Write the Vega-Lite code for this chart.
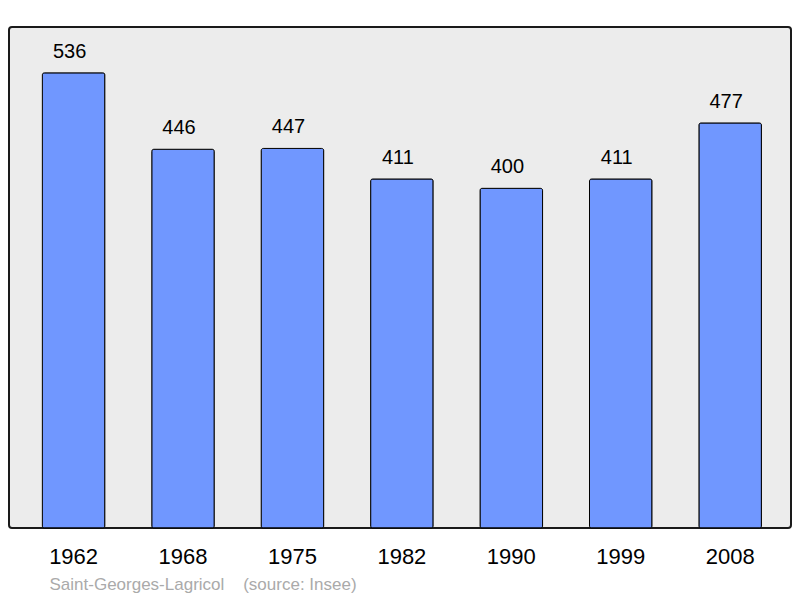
{
  "$schema": "https://vega.github.io/schema/vega-lite/v6.json",
  "width": 782,
  "height": 501,
  "autosize": "none",
  "padding": {"left": 9, "top": 27, "right": 9, "bottom": 70},
  "background": "white",
  "config": {
    "font": "Liberation Sans",
    "view": {"fill": "#ececec", "stroke": "#1a1a1a", "strokeWidth": 2, "cornerRadius": 3}
  },
  "data": {
    "values": [
      {"year": "1962", "pop": 536},
      {"year": "1968", "pop": 446},
      {"year": "1975", "pop": 447},
      {"year": "1982", "pop": 411},
      {"year": "1990", "pop": 400},
      {"year": "1999", "pop": 411},
      {"year": "2008", "pop": 477}
    ]
  },
  "encoding": {
    "x": {
      "field": "year",
      "type": "nominal",
      "sort": null,
      "scale": {"paddingInner": 0.4289, "paddingOuter": 0.2875, "align": 0.53},
      "axis": {
        "title": "Saint-Georges-Lagricol\u00a0\u00a0\u00a0\u00a0(source: Insee)",
        "titleFont": "Liberation Sans",
        "titleFontSize": 17,
        "titleFontWeight": "normal",
        "titleColor": "#aaaaaa",
        "titleAnchor": "start",
        "titleAlign": "left",
        "titleBaseline": "alphabetic",
        "titleX": 40,
        "titleY": 61,
        "labelAngle": 0,
        "labelFontSize": 22,
        "labelColor": "#000000",
        "labelPadding": 18,
        "tickSize": 0,
        "ticks": false,
        "domain": false,
        "grid": false
      }
    },
    "y": {
      "field": "pop",
      "type": "quantitative",
      "scale": {"domain": [0, 590], "nice": false},
      "axis": null
    }
  },
  "layer": [
    {
      "mark": {"type": "bar", "fill": "#7097ff", "stroke": "#000000", "strokeWidth": 1, "cornerRadius": 2}
    },
    {
      "mark": {"type": "text", "fontSize": 20, "baseline": "alphabetic", "dy": -15, "dx": -4, "color": "#000000"},
      "encoding": {"text": {"field": "pop", "type": "quantitative"}}
    }
  ]
}
